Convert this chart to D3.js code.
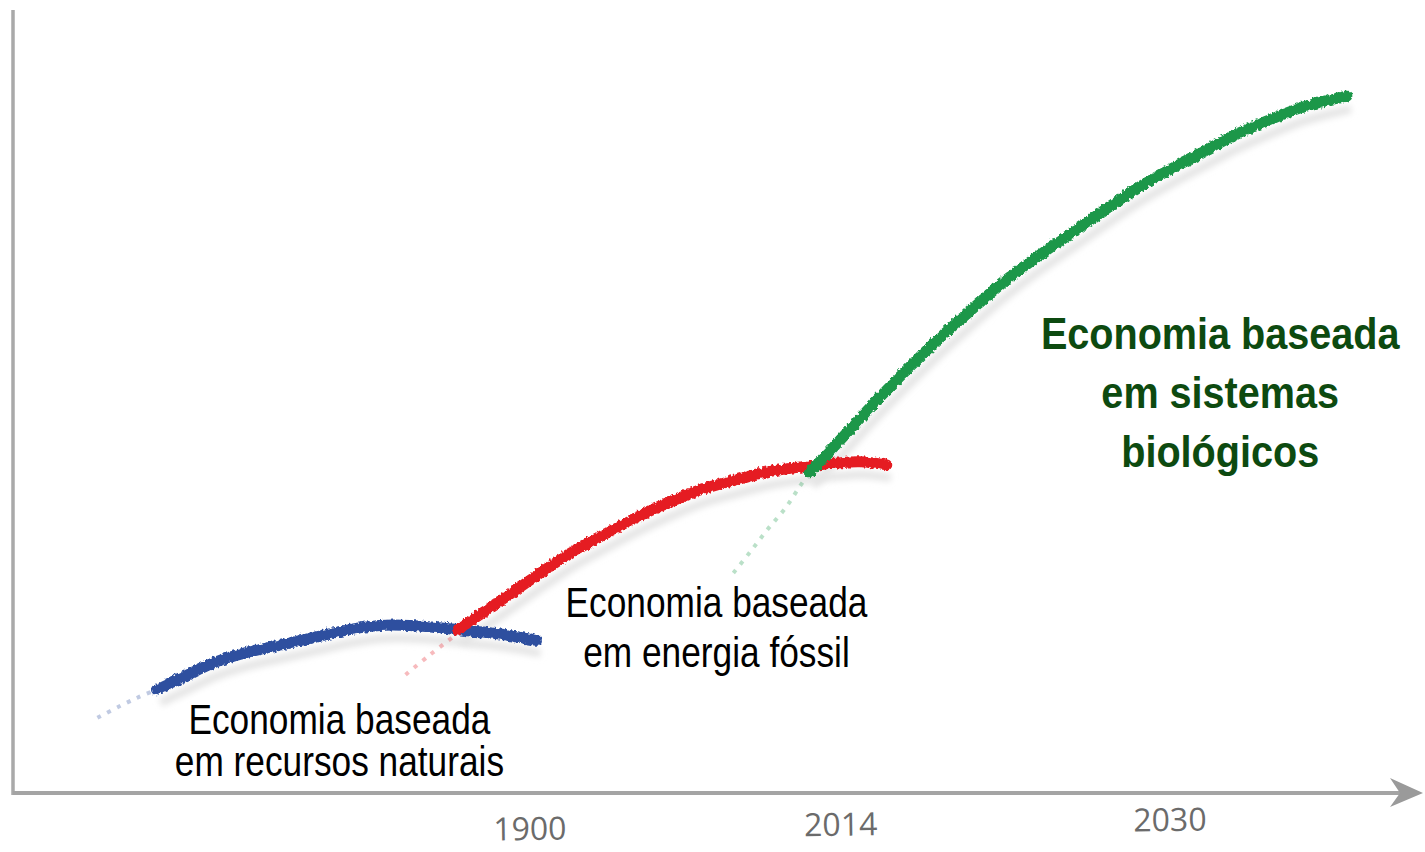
<!DOCTYPE html>
<html>
<head>
<meta charset="utf-8">
<script src="https://cdn.jsdelivr.net/npm/d3@7"></script>
<style>
  body { margin: 0; background: #fff; }
  svg { display: block; }
</style>
</head>
<body>
<svg width="1425" height="852"></svg>
<script>
// eixo do tempo (unidades arbitrárias 0-100) e rótulos dos anos
const anos = ["1900", "2014", "2030"];
const anosPos = [36.7, 58.8, 82.2];

// economia baseada em recursos naturais (azul)
const azulInicioX = [6.0, 7.6, 9.0, 10.2];
const azulInicioY = [9.6, 11.1, 12.3, 13.2];
const azulX = [10.2, 12.2, 14.2, 16.5, 19.0, 21.5, 23.7, 26.1, 28.2, 30.3, 32.5, 34.6, 37.2];
const azulY = [13.2, 14.9, 16.6, 17.9, 18.9, 19.9, 20.8, 21.4, 21.4, 21.1, 20.7, 20.3, 19.5];

// economia baseada em energia fóssil (vermelho)
const vermInicioX = [27.9, 29.6, 31.4];
const vermInicioY = [15.1, 17.6, 20.1];
const vermX = [31.6, 32.3, 34.6, 37.0, 39.4, 41.7, 44.1, 46.5, 48.8, 51.2, 53.6, 55.9, 58.3, 60.2, 62.1];
const vermY = [20.8, 21.7, 24.5, 27.5, 30.4, 32.7, 35.0, 37.0, 38.7, 39.9, 41.0, 41.6, 42.1, 42.3, 41.9];

// economia baseada em sistemas biológicos (verde)
const verdeInicioX = [51.2, 52.4, 53.6, 54.9, 55.9, 56.6];
const verdeInicioY = [28.1, 30.8, 33.6, 36.4, 39.1, 40.9];
const verdeX = [56.6, 58.8, 60.9, 63.0, 65.5, 67.8, 70.1, 72.5, 74.9, 77.3, 79.6, 82.0, 84.4, 86.7, 89.1, 91.5, 93.8, 94.8];
const verdeY = [40.9, 45.1, 49.2, 53.1, 57.5, 61.2, 64.8, 68.1, 71.1, 74.1, 76.9, 79.4, 81.7, 83.9, 85.8, 87.5, 88.6, 89.0];

const svg = d3.select("svg");

const x = d3.scaleLinear().domain([0, 100]).range([13, 1420]);
const y = d3.scaleLinear().domain([0, 100]).range([793, 10]);

const pontos = (xs, ys) => xs.map((v, i) => [v, ys[i]]);
const linha = d3.line()
  .x(d => x(d[0]))
  .y(d => y(d[1]))
  .curve(d3.curveCatmullRom);

// filtros: traço "de giz" e sombra difusa
const defs = svg.append("defs");
const giz = defs.append("filter").attr("id", "giz")
  .attr("x", "-5%").attr("y", "-20%").attr("width", "110%").attr("height", "140%");
giz.append("feTurbulence")
  .attr("type", "fractalNoise").attr("baseFrequency", "0.35 0.25")
  .attr("numOctaves", 2).attr("seed", 4).attr("result", "ruido");
giz.append("feDisplacementMap")
  .attr("in", "SourceGraphic").attr("in2", "ruido")
  .attr("scale", 5).attr("xChannelSelector", "R").attr("yChannelSelector", "G");

const borrao = defs.append("filter").attr("id", "borrao")
  .attr("x", "-10%").attr("y", "-50%").attr("width", "120%").attr("height", "200%");
borrao.append("feGaussianBlur").attr("stdDeviation", 3);

// eixos
const eixos = svg.append("g");
eixos.append("line")
  .attr("x1", 22).attr("x2", 22).attr("y1", 20).attr("y2", 790)
  .attr("stroke", "#f2f2f2").attr("stroke-width", 14).attr("filter", "url(#borrao)");
eixos.append("line")
  .attr("x1", 20).attr("x2", 1395).attr("y1", 804).attr("y2", 804)
  .attr("stroke", "#efefef").attr("stroke-width", 12).attr("filter", "url(#borrao)");
eixos.append("line")
  .attr("x1", x(0)).attr("x2", x(0)).attr("y1", y(100)).attr("y2", y(0) + 2)
  .attr("stroke", "#a9a9a9").attr("stroke-width", 3.5);
eixos.append("line")
  .attr("x1", x(0)).attr("x2", 1400).attr("y1", y(0)).attr("y2", y(0))
  .attr("stroke", "#a4a4a4").attr("stroke-width", 4);
eixos.append("path")
  .attr("d", `M${1423},${y(0)} L${1390},${y(0) - 15} L${1400},${y(0)} L${1390},${y(0) + 14} Z`)
  .attr("fill", "#9a9a9a");

// rótulos dos anos
const eixoX = d3.axisBottom(x)
  .tickValues(anosPos)
  .tickFormat((d, i) => anos[i])
  .tickSize(0)
  .tickPadding(0);
const gAnos = svg.append("g")
  .attr("transform", `translate(0,${y(0)}) rotate(-0.8 ${x(anosPos[0])} 40)`)
  .call(eixoX);
gAnos.select(".domain").remove();
gAnos.selectAll("text")
  .attr("dy", null)
  .attr("y", 47)
  .attr("font-family", "'Open Sans', sans-serif")
  .attr("font-size", 32)
  .attr("fill", "#6b6b6b");

// curvas
const series = [
  { inicio: pontos(azulInicioX, azulInicioY), curva: pontos(azulX, azulY), cor: "#2d4f9f" },
  { inicio: pontos(vermInicioX, vermInicioY), curva: pontos(vermX, vermY), cor: "#e51c24" },
  { inicio: pontos(verdeInicioX, verdeInicioY), curva: pontos(verdeX, verdeY), cor: "#1b974a" }
];

const gCurvas = svg.append("g");
series.forEach(s => {
  gCurvas.append("path")
    .attr("d", linha(s.curva))
    .attr("transform", "translate(4,13)")
    .attr("fill", "none")
    .attr("stroke", "#e4e4e4")
    .attr("stroke-width", 8)
    .attr("filter", "url(#borrao)");
});
series.forEach(s => {
  gCurvas.append("path")
    .attr("d", linha(s.inicio))
    .attr("fill", "none")
    .attr("stroke", s.cor)
    .attr("stroke-opacity", 0.3)
    .attr("stroke-width", 4)
    .attr("stroke-dasharray", "4 7");
  gCurvas.append("path")
    .attr("d", linha(s.curva))
    .attr("fill", "none")
    .attr("stroke", s.cor)
    .attr("stroke-width", 11)
    .attr("stroke-linecap", "round")
    .attr("filter", "url(#giz)");
});

// textos das fases (fonte estreita simulada com escala horizontal)
function rotulo(cx, linhas, y0, passo, tam, peso, cor, sx) {
  const t = svg.append("text")
    .attr("transform", `translate(${cx},0) scale(${sx},1)`)
    .attr("text-anchor", "middle")
    .attr("font-family", "'Liberation Sans', Arial, sans-serif")
    .attr("font-size", tam)
    .attr("font-weight", peso)
    .attr("fill", cor);
  linhas.forEach((l, i) => {
    t.append("tspan").attr("x", 0).attr("y", y0 + i * passo).text(l);
  });
}
rotulo(x(23.2), ["Economia baseada", "em recursos naturais"], 734, 42, 42, "normal", "#000", 0.84);
rotulo(x(50.0), ["Economia baseada", "em energia fóssil"], 617, 50, 42, "normal", "#000", 0.84);
rotulo(x(85.8), ["Economia baseada", "em sistemas", "biológicos"], 349, 59, 45, "bold", "#0d4a10", 0.88);
</script>
</body>
</html>
